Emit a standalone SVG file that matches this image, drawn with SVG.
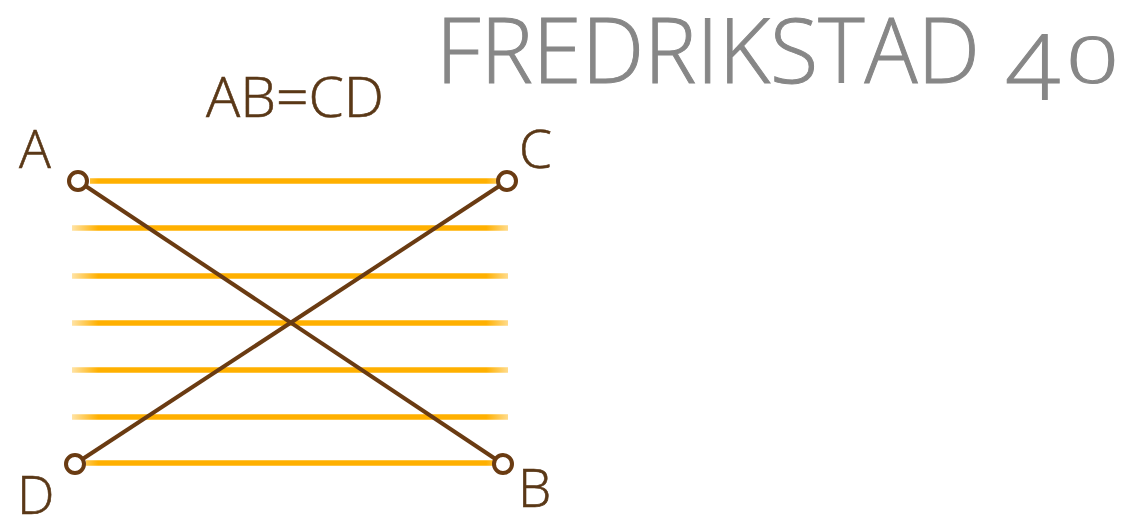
<svg xmlns="http://www.w3.org/2000/svg" width="1139" height="523" viewBox="0 0 1139 523">
  <style>
    .label { font-family: "Open Sans", "Liberation Sans", sans-serif; font-weight: 300; font-size: 53px; fill: #5a3817; stroke: #5a3817; stroke-width: 0.6px; }
    .title { font-family: "Open Sans", "Lato", "Liberation Sans", sans-serif; font-weight: 300; font-size: 90px; fill: #878787; stroke: #878787; stroke-width: 1px; }
    .rung { stroke: url(#og); stroke-width: 5.5; stroke-linecap: butt; fill: none; }
    .diag { stroke: #6a3b12; stroke-width: 4; fill: none; }
    .pt { fill: #ffffff; stroke: #6a3b12; stroke-width: 4; }
  </style>
  <defs>
    <linearGradient id="og" gradientUnits="userSpaceOnUse" x1="72" y1="0" x2="508" y2="0">
      <stop offset="0" stop-color="#ffb000" stop-opacity="0.35"/>
      <stop offset="0.06" stop-color="#ffb000" stop-opacity="1"/>
      <stop offset="0.95" stop-color="#ffb000" stop-opacity="1"/>
      <stop offset="1" stop-color="#ffb000" stop-opacity="0.45"/>
    </linearGradient>
  </defs>
  <rect width="1139" height="523" fill="#ffffff"/>

  <g id="title">
    <text class="title" x="436" y="83" textLength="544" lengthAdjust="spacingAndGlyphs">FREDRIKSTAD</text>
    <text class="title" transform="translate(1005,100) scale(1.08,1)">4</text>
    <text class="title" transform="translate(1066,83) scale(1.45,1)" style="font-size:64px">0</text>
  </g>

  <g id="equation">
    <text class="label" x="206" y="117" style="font-size:55px" textLength="178" lengthAdjust="spacingAndGlyphs">AB=CD</text>
  </g>

  <g id="rungs">
    <line class="rung" x1="90" y1="181" x2="497" y2="181"/>
    <line class="rung" x1="72" y1="228" x2="508" y2="228"/>
    <line class="rung" x1="72" y1="276" x2="508" y2="276"/>
    <line class="rung" x1="72" y1="323" x2="508" y2="323"/>
    <line class="rung" x1="72" y1="370" x2="508" y2="370"/>
    <line class="rung" x1="72" y1="417" x2="508" y2="417"/>
    <line class="rung" x1="86" y1="463" x2="497" y2="463"/>
  </g>

  <g id="connectors">
    <line class="diag" x1="78" y1="181" x2="503" y2="464"/>
    <line class="diag" x1="75" y1="464" x2="507" y2="181"/>
  </g>

  <g id="A">
    <circle class="pt" cx="78" cy="181" r="9"/>
    <text class="label" x="19" y="168">A</text>
  </g>
  <g id="C">
    <circle class="pt" cx="507" cy="181" r="9"/>
    <text class="label" x="519" y="168">C</text>
  </g>
  <g id="D">
    <circle class="pt" cx="75" cy="464" r="9"/>
    <text class="label" x="17" y="514">D</text>
  </g>
  <g id="B">
    <circle class="pt" cx="503" cy="464" r="9"/>
    <text class="label" x="518" y="507">B</text>
  </g>
</svg>
